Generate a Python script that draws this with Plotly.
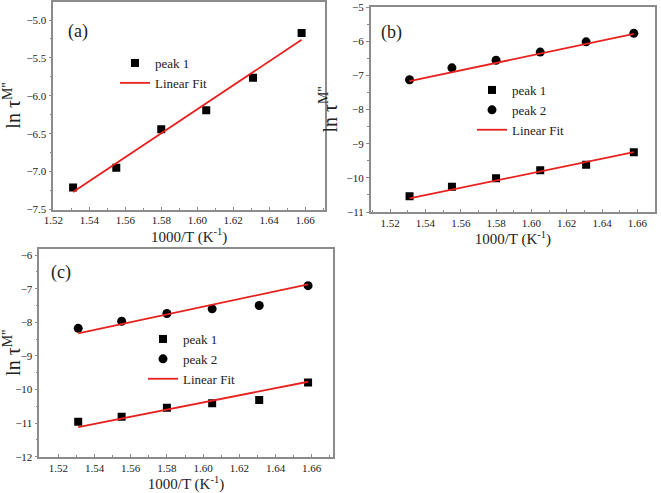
import plotly.graph_objects as go

x_vals = [1.531, 1.555, 1.580, 1.605, 1.631, 1.658]

a_peak1 = [-7.21, -6.95, -6.44, -6.19, -5.76, -5.17]
b_peak1 = [-10.54, -10.26, -10.01, -9.78, -9.62, -9.25]
b_peak2 = [-7.13, -6.78, -6.56, -6.32, -6.02, -5.77]
c_peak1 = [-10.96, -10.81, -10.54, -10.41, -10.31, -9.79]
c_peak2 = [-8.18, -7.97, -7.74, -7.60, -7.50, -6.91]

fit_x = [1.531, 1.658]
a_fit1 = [-7.27, -5.26]
b_fit1 = [-10.60, -9.25]
b_fit2 = [-7.17, -5.79]
c_fit1 = [-11.12, -9.77]
c_fit2 = [-8.33, -6.87]

RED = "#e8201e"
AX = "#8c8c8c"
FONT = "Liberation Serif"
TXT = "#222"

fig = go.Figure()

def add_panel(ax, legend, peaks, fits):
    xa = "x" + ("" if ax == 1 else str(ax))
    ya = "y" + ("" if ax == 1 else str(ax))
    syms = ["square", "circle"]
    sizes = [8, 9]
    for i, (name, vals) in enumerate(peaks):
        fig.add_trace(go.Scatter(x=x_vals, y=vals, mode="markers", name=name,
                                 marker=dict(symbol=syms[i], size=sizes[i], color="black"),
                                 xaxis=xa, yaxis=ya, legend=legend))
    for j, vals in enumerate(fits):
        fig.add_trace(go.Scatter(x=fit_x, y=vals, mode="lines", name="Linear Fit",
                                 line=dict(color=RED, width=1.8),
                                 showlegend=(j == 0),
                                 xaxis=xa, yaxis=ya, legend=legend))

add_panel(1, "legend", [("peak 1", a_peak1)], [a_fit1])
add_panel(2, "legend2", [("peak 1", b_peak1), ("peak 2", b_peak2)], [b_fit1, b_fit2])
add_panel(3, "legend3", [("peak 1", c_peak1), ("peak 2", c_peak2)], [c_fit1, c_fit2])

W, H = 661, 493
def px(x): return x / W
def py(y): return 1 - y / H

common_x = dict(showline=True, linecolor=AX, linewidth=1.5, mirror=True, automargin=False,
                ticks="inside", ticklen=3, tickcolor=AX, dtick=0.02, tickformat=".2f",
                minor=dict(ticks="inside", ticklen=2, dtick=0.01, tickcolor=AX),
                showgrid=False, zeroline=False,
                tickfont=dict(family=FONT, size=11, color=TXT),
                title=dict(text="1000/T (K<sup>-1</sup>)", font=dict(family=FONT, size=15, color=TXT), standoff=0))
common_y = dict(showline=True, linecolor=AX, linewidth=1.5, mirror=True, automargin=False,
                ticks="outside", ticklen=3, tickcolor=AX,
                showgrid=False, zeroline=False,
                tickfont=dict(family=FONT, size=11, color=TXT),
                title=dict(text="ln τ<sup>M''</sup>", font=dict(family=FONT, size=20, color=TXT), standoff=4))

fig.update_layout(
    width=W, height=H, margin=dict(l=0, r=0, t=0, b=0, autoexpand=False),
    plot_bgcolor="white", paper_bgcolor="white", showlegend=True,
    xaxis=dict(common_x, domain=[px(53.3), px(325)], range=[1.52, 1.671], anchor="y"),
    yaxis=dict(common_y, domain=[py(209.5), py(1.7)], range=[-7.5, -4.758], dtick=0.5, tickformat=".1f",
               minor=dict(ticks="outside", ticklen=2, dtick=0.25, tickcolor=AX), anchor="x"),
    xaxis2=dict(common_x, domain=[px(370.7), px(655)], range=[1.509, 1.670], anchor="y2"),
    yaxis2=dict(common_y, domain=[py(212), py(7)], range=[-11, -5], dtick=1,
                minor=dict(ticks="outside", ticklen=2, dtick=0.5, tickcolor=AX), anchor="x2"),
    xaxis3=dict(common_x, domain=[px(39.3), px(332.7)], range=[1.5095, 1.6716], anchor="y3"),
    yaxis3=dict(common_y, domain=[py(456.7), py(249)], range=[-12, -5.82], dtick=1,
                minor=dict(ticks="outside", ticklen=2, dtick=0.5, tickcolor=AX), anchor="x3"),
    legend=dict(x=px(115), y=py(48), xanchor="left", yanchor="top", bgcolor="rgba(0,0,0,0)",
                font=dict(family=FONT, size=13, color=TXT), tracegroupgap=0),
    legend2=dict(x=px(472), y=py(75), xanchor="left", yanchor="top", bgcolor="rgba(0,0,0,0)",
                 font=dict(family=FONT, size=13, color=TXT), tracegroupgap=0),
    legend3=dict(x=px(143), y=py(324), xanchor="left", yanchor="top", bgcolor="rgba(0,0,0,0)",
                 font=dict(family=FONT, size=13, color=TXT), tracegroupgap=0),
    annotations=[
        dict(text="(a)", x=px(66), y=py(31), xref="paper", yref="paper", xanchor="left", yanchor="middle",
             showarrow=False, font=dict(family=FONT, size=18, color=TXT)),
        dict(text="(b)", x=px(379), y=py(33), xref="paper", yref="paper", xanchor="left", yanchor="middle",
             showarrow=False, font=dict(family=FONT, size=18, color=TXT)),
        dict(text="(c)", x=px(49), y=py(272), xref="paper", yref="paper", xanchor="left", yanchor="middle",
             showarrow=False, font=dict(family=FONT, size=18, color=TXT)),
    ],
)

fig.write_html("out.html", config={"displayModeBar": False},
               post_script="document.body.style.margin='0';document.body.style.padding='0';")
